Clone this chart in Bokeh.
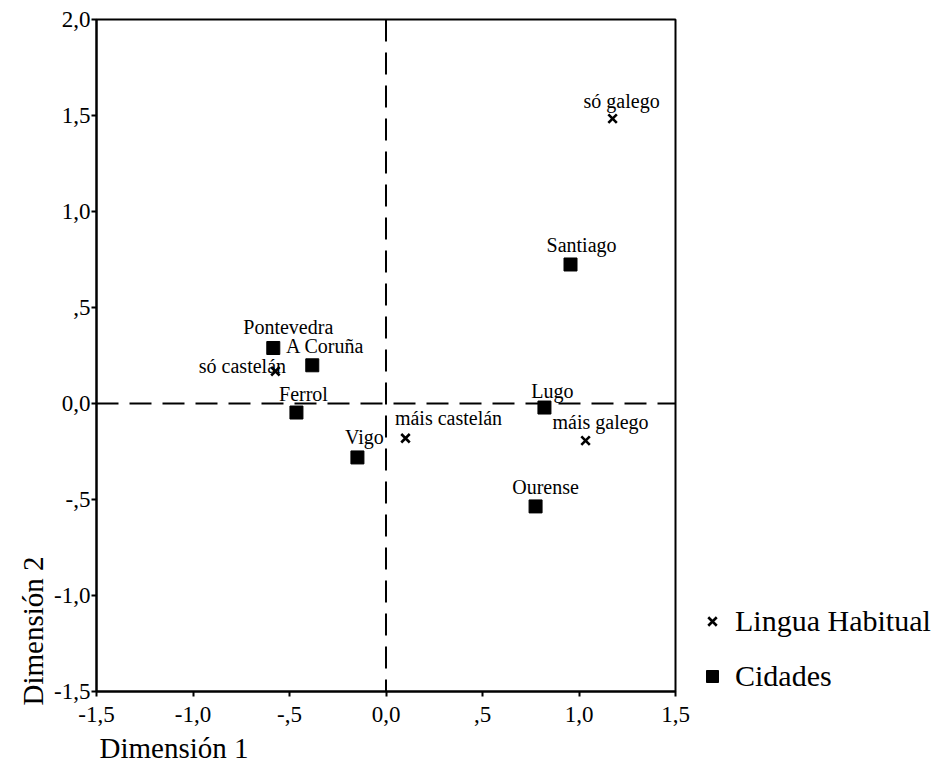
from bokeh.plotting import figure
from bokeh.models import (ColumnDataSource, Span, Legend, LegendItem,
                          FixedTicker, Range1d, Title)
from bokeh.embed import file_html
from bokeh.resources import INLINE
from bokeh.core.properties import value

# ---------------- data ----------------
lingua_labels = ["só galego", "máis galego", "máis castelán", "só castelán"]
lingua_x = [1.174, 1.034, 0.101, -0.573]
lingua_y = [1.484, -0.193, -0.181, 0.168]

cidades_labels = ["Santiago", "Lugo", "Ourense", "Pontevedra", "A Coruña", "Ferrol", "Vigo"]
cidades_x = [0.956, 0.821, 0.775, -0.584, -0.382, -0.464, -0.148]
cidades_y = [0.724, -0.021, -0.536, 0.289, 0.199, -0.047, -0.281]

tick_values = [-1.5, -1.0, -0.5, 0.0, 0.5, 1.0, 1.5, 2.0]
tick_labels = ["-1,5", "-1,0", "-,5", "0,0", ",5", "1,0", "1,5", "2,0"]

series_names = ["Lingua Habitual", "Cidades"]
axis_titles = ["Dimensión 1", "Dimensión 2"]

# ---------------- label placement (pixels, screen) ----------------
lingua_dx = [9, 15, 43, -33]
lingua_dy = [-18, -19, -20, -5]
cidades_dx = [11, 8, 10, 15, 13, 7, 7]
cidades_dy = [-19, -17, -19, -21, -19, -19, -20]

FONT = "Liberation Serif"

p = figure(frame_width=579, frame_height=672,
           x_range=Range1d(-1.5, 1.5), y_range=Range1d(-1.5, 2.0),
           output_backend="svg", toolbar_location=None,
           min_border_left=96, min_border_top=19,
           min_border_right=257, min_border_bottom=90,
           background_fill_color="white", border_fill_color="white")

p.grid.visible = False
p.outline_line_color = "black"
p.outline_line_width = 2

tick_map = {v: s for v, s in zip(tick_values, tick_labels)}
for ax in (p.xaxis[0], p.yaxis[0]):
    ax.ticker = FixedTicker(ticks=tick_values)
    ax.major_label_overrides = tick_map
    ax.major_label_text_font = FONT
    ax.major_label_text_font_size = "23px"
    ax.major_label_text_color = "black"
    ax.axis_line_color = "black"
    ax.axis_line_width = 2
    ax.major_tick_line_color = "black"
    ax.major_tick_line_width = 2
    ax.major_tick_in = 0
    ax.major_tick_out = 5
    ax.minor_tick_line_color = None
p.xaxis[0].major_label_standoff = 10
p.yaxis[0].major_label_standoff = 1

# dashed reference lines
p.add_layout(Span(location=0, dimension="height", line_color="black",
                  line_width=2, line_dash="22 11"))
p.add_layout(Span(location=0, dimension="width", line_color="black",
                  line_width=2, line_dash="22 11"))

src_l = ColumnDataSource(dict(x=lingua_x, y=lingua_y, label=lingua_labels,
                              dx=lingua_dx, dy=lingua_dy))
src_c = ColumnDataSource(dict(x=cidades_x, y=cidades_y, label=cidades_labels,
                              dx=cidades_dx, dy=cidades_dy))

r_l = p.scatter("x", "y", source=src_l, marker="x", size=12,
                line_color="black", line_width=2.6)
r_c = p.scatter("x", "y", source=src_c, marker="square", size=13,
                fill_color="black", line_color="black")

for src in (src_l, src_c):
    p.text("x", "y", text="label", x_offset="dx", y_offset="dy", source=src,
           text_font=value(FONT), text_font_size="20px", text_color="black",
           text_align="center", text_baseline="middle")

legend = Legend(items=[LegendItem(label=series_names[0], renderers=[r_l]),
                       LegendItem(label=series_names[1], renderers=[r_c])],
                location=(22, -2), orientation="vertical",
                label_text_font=FONT, label_text_font_size="30px",
                label_text_color="black",
                glyph_width=30, glyph_height=30, label_height=30,
                spacing=21, padding=0, margin=0, label_standoff=8,
                border_line_color=None, background_fill_alpha=0)
p.add_layout(legend, "right")

p.add_layout(Title(text=axis_titles[0], align="left", offset=3,
                   text_font=FONT, text_font_size="29px",
                   text_font_style="normal", text_color="black",
                   standoff=10), "below")
p.add_layout(Title(text=axis_titles[1], align="left", offset=-14,
                   text_font=FONT, text_font_size="29px",
                   text_font_style="normal", text_color="black",
                   standoff=6), "left")

open("out.html", "w").write(file_html(p, INLINE))
